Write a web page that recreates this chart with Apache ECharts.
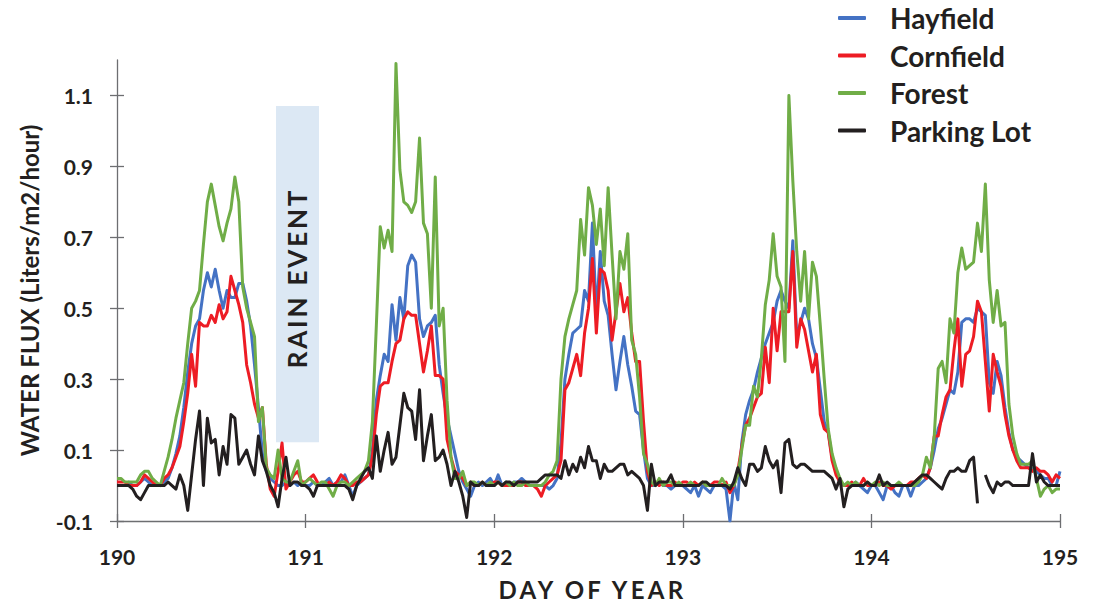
<!DOCTYPE html>
<html>
<head>
<meta charset="utf-8">
<script src="https://cdn.jsdelivr.net/npm/echarts@6/dist/echarts.min.js"></script>
<style>
html,body{margin:0;padding:0;background:#ffffff;}
#chart{width:1097px;height:606px;}
</style>
</head>
<body>
<div id="chart"></div>
<script>
// ---------------- DATA (half-hourly samples, day 190.0 to 195.0) ----------------
const START_DAY = 190;
const SAMPLES_PER_DAY = 48;

const xTicks = [190, 191, 192, 193, 194, 195];
const yTicks = [-0.1, 0.1, 0.3, 0.5, 0.7, 0.9, 1.1];
const seriesNames = ['Hayfield', 'Cornfield', 'Forest', 'Parking Lot'];

const hayfield = [
  // 190
  0.00,0.00,0.00,0.01,0.00,0.00,0.01,0.02,0.01,0.00, 0.00,0.00,0.01,0.02,0.05,0.09,0.14,0.22,0.32,0.40,
  0.45,0.47,0.55,0.60,0.56,0.61,0.55,0.50,0.55,0.53, 0.53,0.57,0.57,0.52,0.45,0.34,0.22,0.09,0.04,0.02,
  0.01,0.00,0.00,0.01,0.00,0.01,0.00,0.01,
  // 191
  0.00,0.00,0.01,0.00,0.00,0.01,0.02,0.00,0.01,0.01, 0.03,0.00,-0.03,0.00,0.01,0.02,0.03,0.10,0.24,0.31,
  0.37,0.35,0.51,0.41,0.53,0.47,0.62,0.65,0.63,0.47, 0.42,0.45,0.46,0.48,0.34,0.26,0.19,0.14,0.09,0.04,
  0.01,-0.01,-0.03,0.00,0.01,0.00,0.01,0.02,
  // 192
  0.00,0.03,0.00,0.01,0.00,0.01,0.01,0.02,0.01,0.00, 0.00,0.00,0.00,0.00,-0.01,0.00,0.02,0.12,0.30,0.37,
  0.43,0.44,0.45,0.55,0.52,0.74,0.48,0.66,0.52,0.48, 0.37,0.27,0.35,0.42,0.34,0.28,0.21,0.20,0.10,0.02,
  0.00,0.00,0.01,0.00,0.00,-0.01,0.00,0.00,
  // 193
  0.00,-0.01,-0.02,0.00,-0.03,0.00,-0.01,-0.02,0.00,0.00, 0.00,-0.01,-0.10,0.01,-0.04,0.12,0.20,0.24,0.27,0.32,
  0.36,0.40,0.43,0.46,0.52,0.55,0.52,0.50,0.69,0.42, 0.46,0.50,0.47,0.40,0.36,0.27,0.18,0.15,0.08,0.04,
  0.01,0.00,0.00,0.00,0.01,0.00,-0.01,-0.02,
  // 194 - 195
  0.00,0.00,-0.02,-0.04,0.00,0.00,-0.02,-0.03,0.00,0.00, -0.03,0.00,0.00,0.01,0.02,0.05,0.10,0.16,0.19,0.23,
  0.27,0.26,0.32,0.46,0.47,0.47,0.46,0.50,0.49,0.48, 0.29,0.26,0.35,0.31,0.22,0.15,0.10,0.08,0.07,0.06,
  0.05,0.05,0.04,0.03,0.02,0.02,0.00,0.00,0.04
];

const cornfield = [
  // 190
  0.01,0.01,0.01,0.00,0.00,0.00,0.01,0.03,0.02,0.01, 0.00,0.00,0.02,0.03,0.05,0.08,0.11,0.18,0.26,0.37,
  0.28,0.46,0.45,0.45,0.48,0.46,0.51,0.47,0.49,0.59, 0.55,0.51,0.46,0.34,0.29,0.23,0.19,0.22,0.06,-0.01,
  -0.03,0.04,0.12,-0.01,0.01,0.03,0.04,0.01,
  // 191
  0.01,0.02,0.03,0.01,0.00,0.00,0.01,0.00,0.01,0.03, 0.02,0.00,0.00,0.01,0.01,0.02,0.03,0.08,0.20,0.28,
  0.29,0.29,0.35,0.40,0.41,0.47,0.49,0.48,0.48,0.40, 0.32,0.38,0.45,0.31,0.31,0.30,0.13,0.08,0.04,0.03,
  0.02,0.00,0.01,0.00,0.00,0.01,0.00,0.00,
  // 192
  0.01,0.01,0.00,0.00,0.00,0.00,0.01,0.01,0.00,0.00, 0.00,-0.01,-0.03,0.00,0.01,0.02,0.03,0.07,0.27,0.29,
  0.33,0.37,0.31,0.43,0.50,0.64,0.43,0.61,0.60,0.55, 0.41,0.49,0.57,0.49,0.53,0.43,0.35,0.35,0.18,0.04,
  0.00,0.01,0.00,0.01,0.00,0.00,0.01,0.00,
  // 193
  0.01,0.01,0.00,0.01,0.00,0.01,0.00,0.00,0.01,0.01, 0.00,0.01,-0.02,0.00,0.04,0.11,0.17,0.19,0.22,0.25,
  0.26,0.39,0.29,0.50,0.38,0.49,0.49,0.49,0.66,0.39, 0.47,0.44,0.38,0.32,0.37,0.20,0.16,0.15,0.07,0.03,
  0.01,0.00,0.00,0.01,0.00,0.00,0.02,0.00,
  // 194 - 195
  0.00,0.00,0.01,0.00,0.00,-0.01,0.00,0.00,0.00,0.00, 0.01,0.01,0.02,0.03,0.02,0.05,0.14,0.14,0.20,0.25,
  0.27,0.38,0.47,0.28,0.37,0.38,0.42,0.52,0.49,0.35, 0.21,0.37,0.32,0.28,0.20,0.14,0.10,0.07,0.05,0.05,
  0.05,0.04,0.05,0.04,0.04,0.03,0.01,0.03,0.02
];

const forest = [
  // 190
  0.02,0.02,0.01,0.01,0.01,0.01,0.03,0.04,0.04,0.02, 0.01,0.00,0.04,0.08,0.13,0.19,0.24,0.29,0.40,0.50,
  0.52,0.55,0.68,0.80,0.85,0.79,0.73,0.69,0.74,0.78, 0.87,0.80,0.56,0.50,0.46,0.42,0.18,0.22,0.05,0.03,
  0.02,0.10,0.02,0.01,0.01,0.04,0.07,0.00,
  // 191
  0.01,0.02,0.01,0.00,0.01,0.01,-0.01,-0.03,0.00,0.01, 0.01,0.00,0.01,0.02,0.03,0.04,0.07,0.18,0.45,0.73,
  0.67,0.72,0.66,1.19,0.89,0.80,0.79,0.77,0.80,0.98, 0.74,0.71,0.50,0.87,0.45,0.50,0.24,0.08,0.02,0.02,
  0.04,0.00,0.01,0.01,0.00,0.01,0.00,0.01,
  // 192
  0.00,0.01,0.00,0.01,0.00,0.01,0.00,0.00,0.01,0.00, 0.00,0.00,0.00,0.01,0.03,0.04,0.07,0.30,0.42,0.47,
  0.51,0.55,0.75,0.65,0.84,0.79,0.68,0.78,0.62,0.84, 0.65,0.47,0.66,0.61,0.71,0.41,0.37,0.25,0.09,0.06,
  0.01,0.00,0.02,0.00,0.01,0.01,0.00,0.01,
  // 193
  0.00,0.00,0.01,0.00,0.00,0.01,0.00,0.00,0.00,0.00, 0.02,0.00,0.00,0.00,0.03,0.10,0.17,0.17,0.28,0.25,
  0.36,0.51,0.58,0.71,0.59,0.56,0.35,1.10,0.86,0.66, 0.52,0.66,0.47,0.63,0.59,0.45,0.30,0.16,0.09,0.05,
  0.02,0.00,0.01,0.00,0.01,0.00,0.00,0.01,
  // 194 - 195
  0.00,0.01,0.00,0.01,0.00,0.00,0.00,0.01,0.00,0.00, 0.00,0.00,0.01,0.03,0.08,0.05,0.14,0.33,0.35,0.29,
  0.47,0.43,0.60,0.67,0.61,0.62,0.63,0.74,0.66,0.85, 0.58,0.46,0.55,0.45,0.46,0.23,0.14,0.09,0.06,0.06,
  0.06,0.07,0.02,-0.03,-0.01,0.00,-0.02,-0.01,-0.01
];

const parkingLot = [
  // 190
  0.00,0.00,0.00,0.00,-0.01,-0.03,-0.04,-0.02,0.00,0.00, 0.00,0.00,0.00,0.01,0.00,-0.01,0.03,0.00,-0.07,0.03,
  0.13,0.21,0.00,0.19,0.12,0.13,0.03,0.11,0.06,0.20, 0.19,0.06,0.08,0.10,0.06,0.03,0.14,0.07,0.04,0.00,
  -0.02,-0.06,0.02,0.08,0.00,0.01,0.01,0.00,
  // 191
  0.00,-0.01,-0.03,0.00,0.00,0.00,0.00,0.00,0.00,0.00, 0.00,-0.01,-0.04,0.00,0.02,0.04,0.05,0.02,0.14,0.04,
  0.10,0.15,0.06,0.08,0.17,0.26,0.22,0.21,0.13,0.27, 0.07,0.14,0.20,0.07,0.08,0.10,0.06,0.00,0.04,0.01,
  -0.03,-0.09,0.01,0.00,0.00,0.01,0.00,0.00,
  // 192
  0.00,0.01,0.00,0.01,0.01,0.00,0.01,0.01,0.01,0.01, 0.01,0.01,0.02,0.03,0.03,0.03,0.03,0.02,0.07,0.03,
  0.06,0.04,0.08,0.05,0.11,0.07,0.07,0.02,0.06,0.04, 0.04,0.05,0.06,0.06,0.03,0.04,0.03,0.02,0.00,-0.07,
  0.06,0.00,0.01,0.01,0.01,0.03,0.00,0.00,
  // 193
  0.00,0.00,0.00,0.00,0.00,0.01,0.01,0.00,0.00,0.00, 0.00,0.00,-0.01,0.01,0.05,0.02,0.00,0.06,0.06,0.04,
  0.05,0.11,0.07,0.05,0.07,-0.02,0.12,0.13,0.06,0.05, 0.06,0.06,0.05,0.04,0.04,0.04,0.04,0.03,0.02,-0.01,
  0.02,-0.06,-0.01,0.00,0.00,0.00,0.00,0.01,
  // 194 - 195 (gap = missing reading)
  0.00,0.00,0.03,0.00,0.01,0.00,0.00,0.00,0.00,0.00, 0.00,0.01,0.02,0.03,0.03,0.02,0.01,0.00,-0.01,0.02,
  0.04,0.04,0.05,0.04,0.04,0.07,0.08,-0.05,null,0.03, 0.00,-0.02,0.01,0.00,0.01,0.01,0.00,0.00,0.00,0.00,
  0.00,0.09,0.01,0.03,0.01,0.00,0.00,0.00,0.00
];

// rain event box: [day start, day end, flux bottom, flux top]
const rainEvent = [190.843, 191.071, 0.122, 1.07];

// ---------------- CHART ----------------
const FONT = 'Lato, "Open Sans", sans-serif';
const TEXT = '#231f20';
const AXIS = '#6d6e71';
const COLORS = ['#4472c4', '#ed1c24', '#70ad47', '#231f20'];

const times = hayfield.map((_, i) => START_DAY + i / SAMPLES_PER_DAY);
const toPairs = arr => arr.map((v, i) => [times[i], v === null ? '-' : v]);
const allData = [hayfield, cornfield, forest, parkingLot];

const chart = echarts.init(document.getElementById('chart'), null, {renderer: 'svg'});

const series = seriesNames.map((name, k) => ({
  type: 'line',
  name: name,
  data: toPairs(allData[k]),
  xAxisIndex: 0,
  yAxisIndex: 0,
  symbol: 'none',
  showSymbol: false,
  connectNulls: false,
  lineStyle: {color: COLORS[k], width: 3, join: 'round'},
  itemStyle: {color: COLORS[k]},
  z: 3 + k
}));

series.unshift({
  type: 'line',
  name: 'rain',
  data: [],
  xAxisIndex: 0,
  yAxisIndex: 0,
  z: 1,
  markArea: {
    silent: true,
    itemStyle: {color: '#dce8f4'},
    data: [[{xAxis: rainEvent[0], yAxis: rainEvent[3]}, {xAxis: rainEvent[1], yAxis: rainEvent[2]}]]
  }
});

const tickLabel = {fontFamily: FONT, fontSize: 21, fontWeight: 'bold', color: TEXT};

chart.setOption({
  animation: false,
  backgroundColor: '#ffffff',
  grid: {left: 117, right: 37, top: 60, bottom: 84},
  legend: {
    data: seriesNames,
    orient: 'vertical',
    left: 838,
    top: 4,
    padding: 0,
    itemWidth: 28,
    itemHeight: 4,
    itemGap: 9.5,
    icon: 'roundRect',
    selectedMode: false,
    textStyle: {fontFamily: FONT, fontSize: 28, fontWeight: 'bold', color: TEXT, lineHeight: 28, padding: [0, 0, 0, 19]}
  },
  xAxis: [{
    type: 'value',
    min: xTicks[0], max: xTicks[xTicks.length - 1], interval: 1,
    axisLine: {show: true, onZero: false, lineStyle: {color: AXIS, width: 1.3}},
    axisTick: {show: true, length: 7, lineStyle: {color: AXIS, width: 1.3}},
    axisLabel: Object.assign({margin: 25}, tickLabel),
    splitLine: {show: false},
    name: 'DAY OF YEAR',
    nameLocation: 'middle',
    nameGap: 56,
    nameTextStyle: {fontFamily: FONT, fontSize: 24, fontWeight: 'bold', color: TEXT, padding: [0, 0, 0, 8]}
  }, {
    type: 'value',
    min: xTicks[0], max: xTicks[xTicks.length - 1], interval: 1,
    position: 'bottom',
    axisLine: {show: false, onZero: false},
    axisTick: {show: true, inside: true, length: 7, lineStyle: {color: AXIS, width: 1.3}},
    axisLabel: {show: false},
    splitLine: {show: false}
  }],
  yAxis: [{
    type: 'value',
    min: -0.1, max: 1.2,
    axisLine: {show: true, onZero: false, lineStyle: {color: AXIS, width: 1.3}},
    axisTick: {show: true, length: 7, customValues: yTicks, lineStyle: {color: AXIS, width: 1.3}},
    axisLabel: Object.assign({margin: 24, customValues: yTicks, formatter: v => Number(v).toFixed(1)}, tickLabel),
    splitLine: {show: false},
    name: 'WATER FLUX (Liters/m2/hour)',
    nameLocation: 'middle',
    nameRotate: 90,
    nameGap: 76,
    nameTextStyle: {fontFamily: FONT, fontSize: 24, fontWeight: 'bold', color: TEXT}
  }, {
    type: 'value',
    min: -0.1, max: 1.2,
    position: 'left',
    axisLine: {show: false, onZero: false},
    axisTick: {show: true, inside: true, length: 7, customValues: yTicks, lineStyle: {color: AXIS, width: 1.3}},
    axisLabel: {show: false},
    splitLine: {show: false}
  }],
  series: series
});

const c = chart.convertToPixel({xAxisIndex: 0, yAxisIndex: 0}, [(rainEvent[0] + rainEvent[1]) / 2, 0.585]);
chart.setOption({
  graphic: [{
    type: 'text',
    x: c[0], y: c[1],
    rotation: Math.PI / 2,
    z: 10,
    style: {text: 'RAIN EVENT', align: 'center', verticalAlign: 'middle', fill: TEXT,
            font: 'bold 26px ' + FONT}
  }]
});

function applySpacing() {
  document.querySelectorAll('#chart text').forEach(t => {
    const s = t.textContent;
    if (s === 'DAY OF YEAR') t.setAttribute('letter-spacing', '3.3');
    if (s === 'RAIN EVENT') t.setAttribute('letter-spacing', '2.8');
  });
}
chart.on('finished', applySpacing);
applySpacing();
setTimeout(applySpacing, 50);
</script>
</body>
</html>
